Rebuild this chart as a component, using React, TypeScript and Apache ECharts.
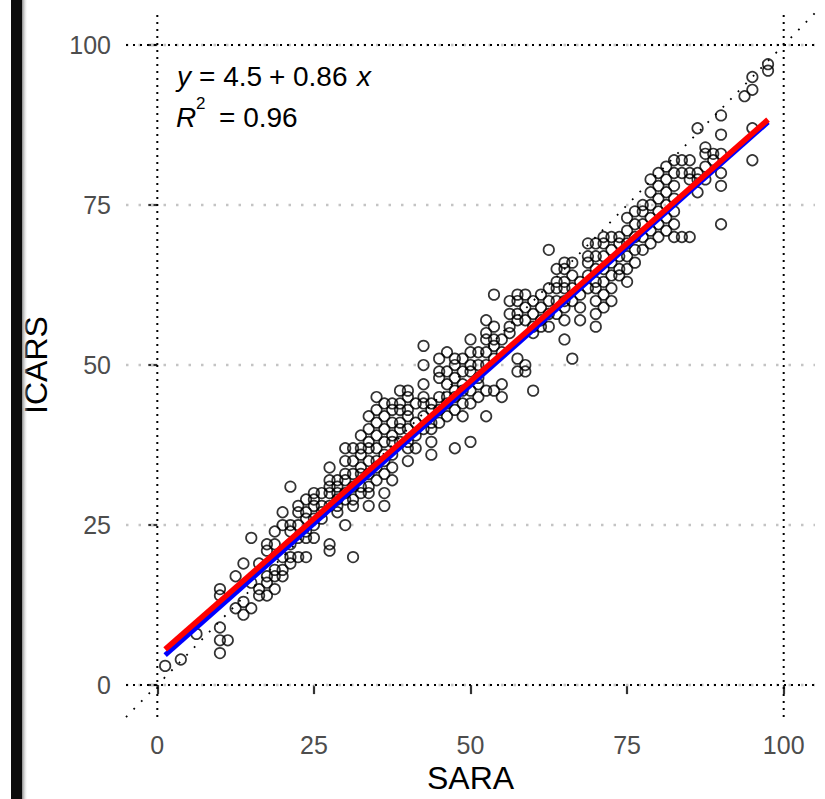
import React, { useEffect, useRef } from "react";
import * as echarts from "echarts";

// SARA values (columns on a 1.25 grid) and the ICARS values observed in each column
const columnSARA = [
  1.25, 3.75, 6.25, 10, 11.25, 12.5, 13.75, 15, 16.25, 17.5, 18.75, 20, 21.25, 22.5, 23.75, 25,
  26.25, 27.5, 28.75, 30, 31.25, 32.5, 33.75, 35, 36.25, 37.5, 38.75, 40, 41.25, 42.5, 43.75, 45,
  46.25, 47.5, 48.75, 50, 51.25, 52.5, 53.75, 55, 56.25, 57.5, 58.75, 60, 61.25, 62.5, 63.75, 65,
  66.25, 67.5, 68.75, 70, 71.25, 72.5, 73.75, 75, 76.25, 77.5, 78.75, 80, 81.25, 82.5, 83.75, 85,
  86.25, 87.5, 88.75, 90, 93.75, 95, 97.5,
];
const columnICARS = [
  [3], [4], [8], [5, 7, 9, 14, 15], [7], [12, 17], [11, 13, 19], [12, 16, 23], [14, 15, 19],
  [14, 16, 17, 21, 22], [15, 17, 18, 22, 24], [17, 18, 20, 25, 27], [19, 20, 22, 24, 25, 31],
  [20, 23, 25, 27, 28], [20, 23, 24, 26, 27, 29], [23, 25, 26, 28, 29, 30], [26, 27, 28, 30],
  [21, 22, 28, 30, 31, 32, 34], [27, 28, 29, 30, 31, 32], [25, 29, 30, 32, 33, 35, 37],
  [20, 28, 29, 31, 33, 35, 37], [30, 31, 33, 34, 36, 37, 39], [28, 30, 31, 33, 35, 37, 38, 40, 42],
  [32, 34, 35, 37, 39, 41, 43, 45], [28, 30, 33, 35, 36, 38, 40, 42, 44], [32, 34, 36, 38, 39, 41, 43, 44],
  [38, 40, 41, 43, 44, 46], [35, 37, 38, 40, 42, 43, 45, 46], [37, 39, 41, 44],
  [40, 42, 44, 45, 47, 50, 53], [36, 38, 40, 41, 43, 44], [41, 43, 45, 48, 49, 51],
  [42, 44, 45, 47, 49, 52], [37, 43, 45, 46, 48, 50, 51], [42, 44, 46, 47, 49, 51],
  [38, 44, 46, 49, 50, 52, 54], [45, 47, 48, 50, 52], [42, 46, 50, 52, 54, 55, 57],
  [46, 51, 53, 54, 56, 61], [45, 47, 52, 54], [55, 56, 58, 60], [49, 51, 57, 58, 60, 61],
  [49, 50, 57, 59, 61], [46, 55, 56, 58, 60], [56, 57, 59, 61], [56, 58, 60, 62, 68],
  [58, 60, 62, 63, 65], [54, 57, 59, 60, 62, 63, 65, 66], [51, 60, 62, 64, 66], [57, 59, 61, 63],
  [62, 64, 66, 67, 69], [56, 58, 60, 62, 63, 65, 67, 69], [59, 61, 63, 65, 67, 69, 70],
  [60, 62, 64, 66, 68, 70], [64, 65, 67, 69, 70], [63, 65, 67, 69, 71, 73], [66, 68, 70, 72, 74],
  [68, 70, 72, 74, 75], [69, 71, 73, 75, 77, 79], [70, 72, 74, 76, 78, 80], [71, 73, 75, 77, 79, 81],
  [70, 72, 74, 76, 78, 80, 82], [70, 80, 82], [70, 79, 80, 82], [77, 79, 80, 87], [79, 81, 83, 84],
  [82, 83], [72, 78, 80, 83, 86, 89], [92], [82, 87, 93, 95], [96, 97],
];

const tickValues = [0, 25, 50, 75, 100];
const axisRange = [-5, 105];
const referenceLines = [0, 100];
const fitRange = [1.25, 97.5];
const redFit = [4.5, 0.86]; // intercept, slope
const blueFit = [3.6, 0.865];

export default function App() {
  const ref = useRef<HTMLDivElement>(null);
  useEffect(() => {
    if (!ref.current) return;
    const chart = echarts.init(ref.current, null, { renderer: "svg" });
    const points: number[][] = [];
    columnSARA.forEach((x, i) => columnICARS[i].forEach((y) => points.push([x, y])));
    const fitLine = (f: number[]) => fitRange.map((x) => [x, f[0] + f[1] * x]);
    const dotted = (color: string, width: number, type: number[]) => ({ color, width, type });
    const lineSeries = (data: number[][], lineStyle: any, z = 1) => ({
      type: "line",
      data,
      symbol: "none",
      silent: true,
      lineStyle,
      z,
    });
    const series: any[] = [];
    tickValues.forEach((t) =>
      series.push(lineSeries([[axisRange[0], t], [axisRange[1], t]], dotted("#c4c4c4", 2.5, [2.5, 10]), 1))
    );
    referenceLines.forEach((r) => {
      series.push(lineSeries([[axisRange[0], r], [axisRange[1], r]], dotted("#000", 2, [2, 5]), 2));
      series.push(lineSeries([[r, axisRange[0]], [r, axisRange[1]]], dotted("#000", 2, [2, 5]), 2));
    });
    series.push(lineSeries([[axisRange[0], axisRange[0]], [axisRange[1], axisRange[1]]], dotted("#000", 1.8, [1.8, 9]), 2));
    series.push({
      type: "scatter",
      data: points,
      symbol: "circle",
      symbolSize: 10.5,
      itemStyle: { color: "rgba(0,0,0,0)", borderColor: "#000", borderWidth: 1.7 },
      z: 3,
    });
    series.push(lineSeries(fitLine(blueFit), { color: "#0000ff", width: 5 }, 4));
    series.push(lineSeries(fitLine(redFit), { color: "#ff0000", width: 5.5 }, 5));

    const font = "Liberation Sans, Arial, sans-serif";
    const axisCommon = {
      type: "value",
      min: axisRange[0],
      max: axisRange[1],
      axisLine: { show: false },
      axisTick: { show: true, length: 9, customValues: tickValues, lineStyle: { color: "#333", width: 2.2 } },
      axisLabel: { customValues: tickValues, color: "#4d4d4d", fontSize: 25, fontFamily: font, margin: 15 },
      splitLine: { show: false },
      nameLocation: "middle",
      nameTextStyle: { color: "#000", fontSize: 32, fontFamily: font },
    };
    const txt = (text: string, left: number, top: number, size = 28, italic = false) => ({
      type: "text",
      left,
      top,
      style: { text, font: `${italic ? "italic " : ""}${size}px ${font}`, fill: "#000" },
      z: 10,
    });

    chart.setOption({
      animation: false,
      backgroundColor: "#fff",
      grid: { left: 126, right: 10, top: 13, bottom: 81 },
      xAxis: { ...axisCommon, name: "SARA", nameGap: 42 },
      yAxis: { ...axisCommon, name: "ICARS", nameGap: 74 },
      series,
      graphic: [
        { type: "rect", left: 11, top: 0, shape: { width: 11, height: 799 }, style: { fill: "#0c0c0c" }, z: 10 },
        {
          type: "rect",
          left: 22,
          top: 0,
          shape: { width: 6, height: 799 },
          style: {
            fill: new echarts.graphic.LinearGradient(0, 0, 1, 0, [
              { offset: 0, color: "#888" },
              { offset: 1, color: "rgba(255,255,255,0)" },
            ]),
          },
          z: 10,
        },
        txt("y", 177, 62, 28, true),
        txt("= 4.5", 199, 62),
        txt("+", 269, 62),
        txt("0.86", 293, 62),
        txt("x", 357, 62, 28, true),
        txt("R", 176, 103, 28, true),
        txt("2", 196, 95, 17),
        txt("= 0.96", 219, 103),
      ],
    });
    return () => chart.dispose();
  }, []);
  return (
    <div
      ref={ref}
      style={{ position: "fixed", left: 0, top: 0, width: 825, height: 799, background: "#fff" }}
    />
  );
}
